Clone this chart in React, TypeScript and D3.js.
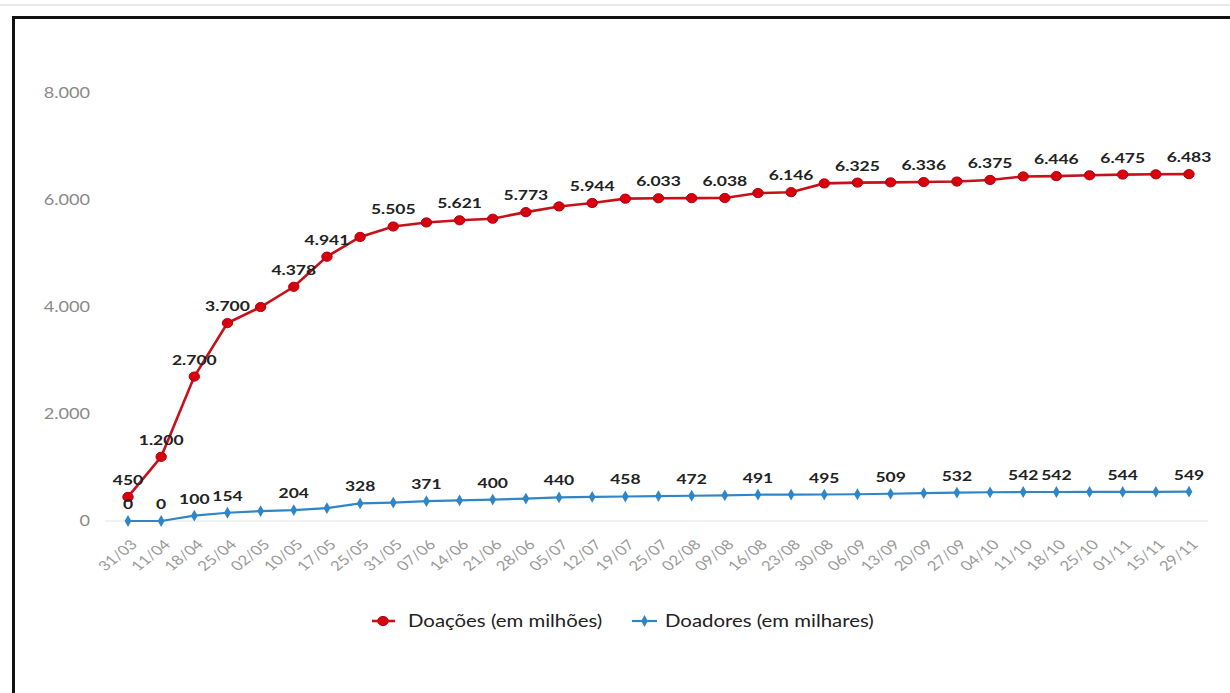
import * as d3 from "d3";

const dates = [
  "31/03", "11/04", "18/04", "25/04", "02/05", "10/05", "17/05", "25/05", "31/05",
  "07/06", "14/06", "21/06", "28/06", "05/07", "12/07", "19/07", "25/07", "02/08",
  "09/08", "16/08", "23/08", "30/08", "06/09", "13/09", "20/09", "27/09", "04/10",
  "11/10", "18/10", "25/10", "01/11", "15/11", "29/11",
];

// Doações (em milhões)
const doacoes = [
  450, 1200, 2700, 3700, 4000, 4378, 4941, 5310, 5505, 5580, 5621, 5650, 5773,
  5880, 5944, 6025, 6033, 6035, 6038, 6130, 6146, 6310, 6325, 6330, 6336, 6345,
  6375, 6440, 6446, 6462, 6475, 6480, 6483,
];
// which points carry a label
const doacoesLabeled = [0, 1, 2, 3, 5, 6, 8, 10, 12, 14, 16, 18, 20, 22, 24, 26, 28, 30, 32];

// Doadores (em milhares)
const doadores = [
  0, 0, 100, 154, 185, 204, 240, 328, 345, 371, 385, 400, 420, 440, 450, 458, 465,
  472, 480, 491, 493, 495, 500, 509, 520, 532, 537, 542, 542, 543, 544, 546, 549,
];
const doadoresLabeled = [0, 1, 2, 3, 5, 7, 9, 11, 13, 15, 17, 19, 21, 23, 25, 27, 28, 30, 32];

const yTicks = [0, 2000, 4000, 6000, 8000];

const W = 1230;
const H = 693;
const RED = "#c8101a";
const BLUE = "#2e86c8";
const FONT = "Lato, 'Open Sans', sans-serif";
// the original picture is stretched sideways, text too
const SX = 1.25;

const fmt = (v: number) => d3.format(",")(v).replace(/,/g, ".");
const at = (x: number, y: number, rest = "") => `translate(${x},${y}) scale(${SX},1) ${rest}`;

export default function App() {
  const x = d3.scalePoint<string>().domain(dates).range([128, 1189]);
  const y = d3.scaleLinear().domain([0, 8000]).range([521, 93]);

  const line = d3
    .line<number>()
    .x((_, i) => x(dates[i])!)
    .y((d) => y(d));

  const diamond = d3.symbol(d3.symbolDiamond, 40)();

  return (
    <>
      <style>{`body{margin:0}`}</style>
      <svg width={W} height={H} style={{ display: "block", background: "#fff" }}>
        <line x1={0} x2={W} y1={5} y2={5} stroke="#e2e2e2" strokeWidth={1.5} />
        <path d={`M13.5,${H + 5}V17.5H${W + 5}`} fill="none" stroke="#111" strokeWidth={3} />

        {/* y axis labels */}
        {yTicks.map((t) => (
          <text
            key={t}
            transform={at(90, y(t))}
            dy="0.35em"
            textAnchor="end"
            fontFamily={FONT}
            fontSize={14.5}
            fill="#8a8a8a"
          >
            {fmt(t)}
          </text>
        ))}

        {/* baseline */}
        <line x1={105} x2={1208} y1={y(0)} y2={y(0)} stroke="#ececec" strokeWidth={1.5} />

        {/* x labels */}
        {dates.map((d) => (
          <text
            key={d}
            transform={at(x(d)! + 6, y(0) + 21, "rotate(-45)")}
            textAnchor="end"
            dy="0.35em"
            fontFamily={FONT}
            fontSize={13.5}
            fill="#9a9a9a"
          >
            {d}
          </text>
        ))}

        {/* Doadores */}
        <path d={line(doadores)!} fill="none" stroke={BLUE} strokeWidth={2.2} />
        {doadores.map((v, i) => (
          <path key={i} d={diamond} transform={`translate(${x(dates[i])},${y(v)})`} fill={BLUE} />
        ))}

        {/* Doações */}
        <path d={line(doacoes)!} fill="none" stroke={RED} strokeWidth={2.6} />
        {doacoes.map((v, i) => (
          <ellipse key={i} cx={x(dates[i])} cy={y(v)} rx={5.2} ry={4.6} fill="#d8000c" stroke="#b00010" strokeWidth={1} />
        ))}

        {/* labels */}
        {doadoresLabeled.map((i) => (
          <text
            key={"b" + i}
            transform={at(x(dates[i])!, y(doadores[i]) - 12)}
            textAnchor="middle"
            fontFamily={FONT}
            fontWeight={700}
            fontSize={14}
            fill="#222"
          >
            {fmt(doadores[i])}
          </text>
        ))}
        {doacoesLabeled.map((i) => (
          <text
            key={"r" + i}
            transform={at(x(dates[i])!, y(doacoes[i]) - 12)}
            textAnchor="middle"
            fontFamily={FONT}
            fontWeight={700}
            fontSize={14}
            fill="#222"
          >
            {fmt(doacoes[i])}
          </text>
        ))}

        {/* legend */}
        <g fontFamily={FONT} fontSize={16.3} fill="#222">
          <line x1={372} x2={395} y1={621} y2={621} stroke={RED} strokeWidth={2.6} />
          <ellipse cx={383} cy={621} rx={5.2} ry={4.6} fill="#d8000c" stroke="#b00010" />
          <text transform={at(408, 621)} dy="0.35em">Doações (em milhões)</text>
          <line x1={632} x2={657} y1={621} y2={621} stroke={BLUE} strokeWidth={2.2} />
          <path d={diamond} transform="translate(644.5,621)" fill={BLUE} />
          <text transform={at(665, 621)} dy="0.35em">Doadores (em milhares)</text>
        </g>
      </svg>
    </>
  );
}
